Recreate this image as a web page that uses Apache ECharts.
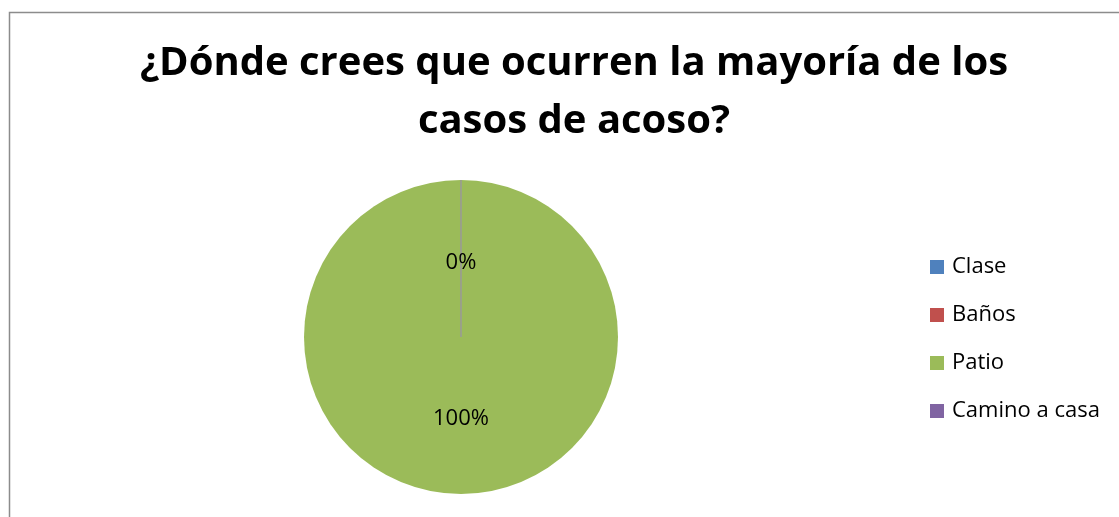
<!DOCTYPE html>
<html><head><meta charset="utf-8">
<script src="https://cdn.jsdelivr.net/npm/echarts@6/dist/echarts.min.js"></script>
<style>html,body{margin:0;padding:0;background:#fff}#c{width:1119px;height:517px}</style>
</head><body><div id="c"></div>
<script>
const categories = ["Clase", "Baños", "Patio", "Camino a casa"];
const values = [0, 0, 100, 0];
const colors = ["#4F81BD", "#C0504D", "#9BBB59", "#8064A2"];
const titleText = "¿Dónde crees que ocurren la mayoría de los\ncasos de acoso?";

const chart = echarts.init(document.getElementById('c'));
chart.setOption({
  animation: false,
  graphic: [{
    type: 'rect', left: 7, top: 10,
    shape: { width: 1200, height: 600 },
    style: { fill: 'none', stroke: '#8c8c8c', lineWidth: 1.5 }, silent: true, z: -1
  }],
  title: {
    text: titleText, left: 569, top: 30, textAlign: 'center',
    textStyle: { fontFamily: 'Open Sans', fontWeight: 'bold', fontSize: 40, lineHeight: 58, color: '#000' }
  },
  legend: {
    orient: 'vertical', left: 925, top: 251, itemWidth: 14, itemHeight: 14, itemGap: 26,
    icon: 'rect',
    itemStyle: { borderWidth: 0 },
    textStyle: { fontFamily: 'Open Sans', fontSize: 22, lineHeight: 22, color: '#000', padding: [0,0,0,3] },
    data: categories
  },
  series: [{
    type: 'pie', center: [461, 337], radius: 157, startAngle: 90, clockwise: true,
    avoidLabelOverlap: false, stillShowZeroSum: true,
    label: { position: 'inside', formatter: '{d}%', fontFamily: 'Open Sans', fontSize: 22, color: '#000' },
    labelLine: { show: false },
    emphasis: { disabled: true },
    data: categories.map((n, i) => ({
      name: n, value: values[i],
      itemStyle: { color: colors[i], borderColor: values[i] ? 'transparent' : '#999', borderWidth: values[i] ? 0 : 1 },
      label: values[i] ? {} : { offset: [0, 7] }
    }))
  }]
});
</script></body></html>
